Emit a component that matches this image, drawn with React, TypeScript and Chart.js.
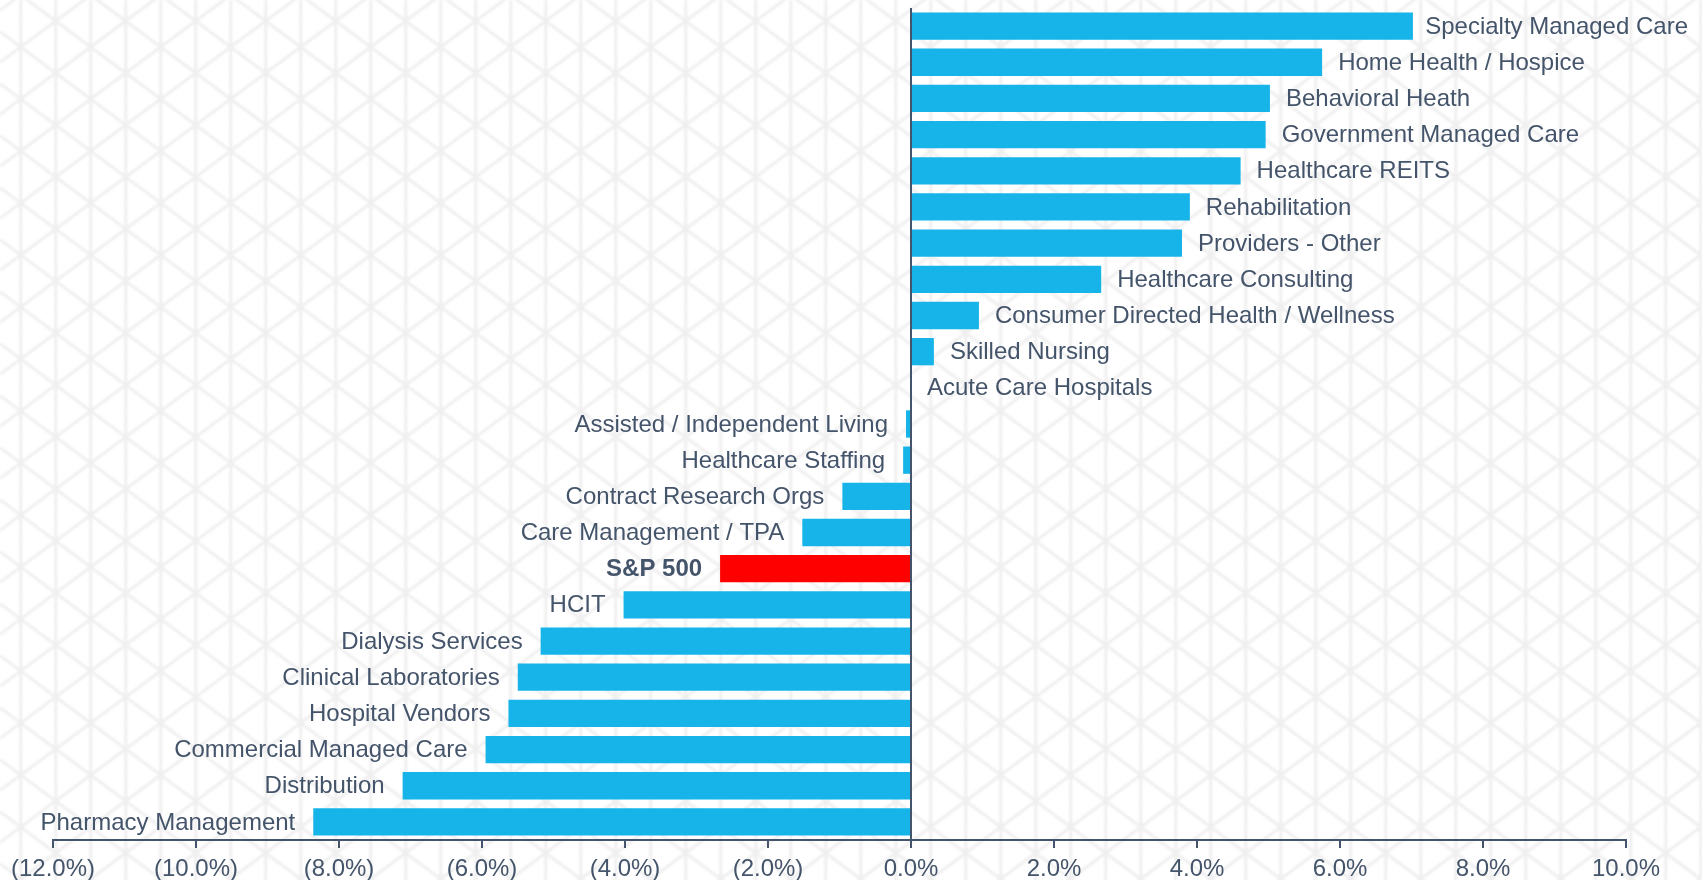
import React, { useEffect, useRef } from "react";
import { Chart, registerables } from "chart.js";

Chart.register(...registerables);

const categories: string[] = [
  "Specialty Managed Care",
  "Home Health / Hospice",
  "Behavioral Heath",
  "Government Managed Care",
  "Healthcare REITS",
  "Rehabilitation",
  "Providers - Other",
  "Healthcare Consulting",
  "Consumer Directed Health / Wellness",
  "Skilled Nursing",
  "Acute Care Hospitals",
  "Assisted / Independent Living",
  "Healthcare Staffing",
  "Contract Research Orgs",
  "Care Management / TPA",
  "S&P 500",
  "HCIT",
  "Dialysis Services",
  "Clinical Laboratories",
  "Hospital Vendors",
  "Commercial Managed Care",
  "Distribution",
  "Pharmacy Management",
];

const values: number[] = [
  7.02, 5.75, 5.02, 4.96, 4.61, 3.9, 3.79, 2.66, 0.95, 0.32, 0.0, -0.07, -0.11,
  -0.96, -1.52, -2.67, -4.02, -5.18, -5.5, -5.63, -5.95, -7.11, -8.36,
];

const highlightCategory = "S&P 500";
const xMin = -12;
const xMax = 10;
const xStep = 2;

const BAR_COLOR = "#16B4E9";
const HIGHLIGHT_COLOR = "#FF0000";
const TEXT_COLOR = "#44546A";
const FONT_FAMILY = '"Liberation Sans", Arial, sans-serif';

const formatTick = (v: number) => {
  const s = Math.abs(v).toFixed(1) + "%";
  return v < 0 ? "(" + s + ")" : s;
};

const patternPlugin = {
  id: "trianglePattern",
  beforeDraw(chart: any) {
    const { ctx, width, height } = chart;
    ctx.save();
    ctx.fillStyle = "#ffffff";
    ctx.fillRect(0, 0, width, height);
    ctx.strokeStyle = "#EFEFEF";
    ctx.lineWidth = 3;
    ctx.filter = "blur(0.8px)";
    const dx = 35;
    const x0 = 20.7;
    const y0 = 47;
    const dy = 52;
    const s = 26 / 35;
    ctx.beginPath();
    for (let x = x0 - dx; x < width + dx; x += dx) {
      ctx.moveTo(x, 0);
      ctx.lineTo(x, height);
    }
    for (let n = -60; n <= 60; n++) {
      const c = y0 + dy * n;
      ctx.moveTo(0, c - s * x0);
      ctx.lineTo(width, c + s * (width - x0));
      ctx.moveTo(0, c + s * x0);
      ctx.lineTo(width, c - s * (width - x0));
    }
    ctx.stroke();
    ctx.restore();
  },
};

const labelPlugin = {
  id: "barLabels",
  afterDatasetsDraw(chart: any) {
    const { ctx } = chart;
    const meta = chart.getDatasetMeta(0);
    const zero = chart.scales.x.getPixelForValue(0);
    ctx.save();
    meta.data.forEach((bar: any, i: number) => {
      const v = values[i];
      const label = categories[i];
      const bold = label === highlightCategory;
      ctx.font = `${bold ? "bold " : ""}24px ${FONT_FAMILY}`;
      ctx.fillStyle = TEXT_COLOR;
      ctx.textBaseline = "middle";
      const y = bar.y + 1;
      if (v < 0) {
        ctx.textAlign = "right";
        ctx.fillText(label, bar.x - 18, y);
      } else {
        ctx.textAlign = "left";
        const w = ctx.measureText(label).width;
        let x = Math.max(bar.x, zero) + 16;
        if (x + w > chart.width - 14) x = chart.width - 14 - w;
        ctx.fillText(label, x, y);
      }
    });
    ctx.restore();
  },
};

export default function App() {
  const canvasRef = useRef<HTMLCanvasElement | null>(null);

  useEffect(() => {
    if (!canvasRef.current) return;
    const chart = new Chart(canvasRef.current, {
      type: "bar",
      data: {
        labels: categories,
        datasets: [
          {
            data: values,
            backgroundColor: categories.map((c) =>
              c === highlightCategory ? HIGHLIGHT_COLOR : BAR_COLOR
            ),
            borderWidth: 0,
            barPercentage: 0.755,
            categoryPercentage: 1,
          },
        ],
      },
      options: {
        indexAxis: "y",
        animation: false,
        responsive: true,
        maintainAspectRatio: false,
        layout: { padding: { left: 53, right: 76, top: 8, bottom: 0 } },
        plugins: {
          legend: { display: false },
          tooltip: { enabled: false },
        },
        scales: {
          y: {
            type: "category",
            display: false,
          },
          x: {
            type: "linear",
            min: xMin,
            max: xMax,
            ticks: {
              stepSize: xStep,
              color: TEXT_COLOR,
              padding: 9,
              font: { size: 24, family: FONT_FAMILY, lineHeight: 1 },
              callback: (v: any) => formatTick(Number(v)),
              maxRotation: 0,
              autoSkip: false,
            },
            grid: {
              drawOnChartArea: true,
              color: (ctx: any) =>
                ctx.tick && ctx.tick.value === 0 ? TEXT_COLOR : "rgba(0,0,0,0)",
              tickColor: TEXT_COLOR,
              lineWidth: 2,
              tickLength: 8,
            },
            border: { display: true, color: TEXT_COLOR, width: 2 },
          },
        },
      },
      plugins: [patternPlugin, labelPlugin],
    });
    return () => chart.destroy();
  }, []);

  return (
    <div
      style={{
        position: "fixed",
        left: 0,
        top: 0,
        width: "1702px",
        height: "890px",
      }}
    >
      <canvas ref={canvasRef} />
    </div>
  );
}
